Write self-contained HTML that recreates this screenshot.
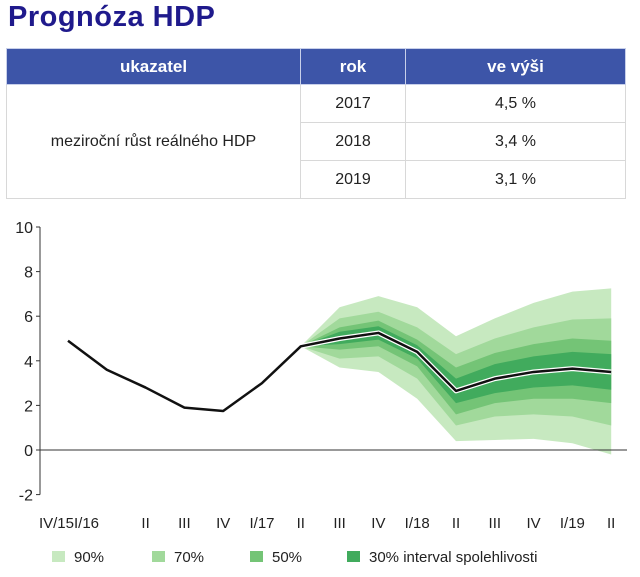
<!DOCTYPE html>
<html><head><meta charset="utf-8"><style>
body{margin:0;width:640px;height:577px;background:#fff;font-family:"Liberation Sans",Verdana,sans-serif;overflow:hidden;position:relative}
h1{position:absolute;left:8px;top:1px;margin:0;font-size:29px;color:#1f1a8c;font-weight:bold;letter-spacing:0.5px}
table{position:absolute;left:6px;top:48px;border-collapse:collapse;width:620px}
td,th{border:1px solid #d8d8d8;font-size:16px;text-align:center;color:#222;padding:0;line-height:16px}
th{background:#3d55a8;color:#fff;height:35px;font-size:17px;border-color:#c8d0ea}
td{height:37px}
</style></head><body>
<h1>Prognóza HDP</h1>
<table>
<tr><th style="width:293px">ukazatel</th><th style="width:104px">rok</th><th>ve výši</th></tr>
<tr><td rowspan="3">meziroční růst reálného HDP</td><td>2017</td><td>4,5 %</td></tr>
<tr><td>2018</td><td>3,4 %</td></tr>
<tr><td>2019</td><td>3,1 %</td></tr>
</table>
<svg id="chart" width="640" height="577" style="position:absolute;left:0;top:0"></svg>
<script>
const categories=["IV/15","I/16","II","III","IV","I/17","II","III","IV","I/18","II","III","IV","I/19","II"];
const gdp=[4.9,3.6,2.8,1.9,1.75,3.0,4.65,5.0,5.25,4.4,2.65,3.2,3.5,3.65,3.5];
const fanStart=6;
const band90Upper=[4.65,6.4,6.9,6.4,5.1,5.9,6.6,7.1,7.25];
const band90Lower=[4.65,3.7,3.5,2.3,0.4,0.45,0.5,0.3,-0.2];
const band70Upper=[4.65,5.9,6.2,5.5,4.3,5.0,5.5,5.85,5.9];
const band70Lower=[4.65,4.1,4.2,3.2,1.1,1.5,1.6,1.5,1.1];
const band50Upper=[4.65,5.5,5.8,4.95,3.7,4.35,4.75,5.0,4.9];
const band50Lower=[4.65,4.5,4.65,3.75,1.6,2.1,2.3,2.3,2.1];
const band30Upper=[4.65,5.3,5.55,4.7,3.2,3.85,4.2,4.4,4.3];
const band30Lower=[4.65,4.75,4.95,4.1,2.1,2.55,2.8,2.9,2.7];
const yTicks=[-2,0,2,4,6,8,10];
const legendLabels=["90%","70%","50%","30% interval spolehlivosti"];
const bandColors=["#c7e9c0","#a1d99b","#74c476","#41ab5d"];
const svg=document.getElementById('chart');const NS="http://www.w3.org/2000/svg";
const X=i=>68+38.8*i, Y=v=>450-22.3*v;
function mk(t,a,p){const e=document.createElementNS(NS,t);for(const k in a)e.setAttribute(k,a[k]);(p||svg).appendChild(e);return e;}
const bands=[[band90Upper,band90Lower],[band70Upper,band70Lower],[band50Upper,band50Lower],[band30Upper,band30Lower]];
bands.forEach((b,j)=>{let pts=[];b[0].forEach((v,k)=>pts.push(X(fanStart+k)+","+Y(v)));for(let k=b[1].length-1;k>=0;k--)pts.push(X(fanStart+k)+","+Y(b[1][k]));
const p=mk('polygon',{points:pts.join(' '),fill:bandColors[j]});

});
const ax=mk('line',{x1:40,x2:40,y1:Y(10),y2:Y(-2),stroke:'#333','stroke-width':1});

const zl=mk('line',{x1:40,x2:627,y1:Y(0),y2:Y(0),stroke:'#333','stroke-width':1});

yTicks.forEach(v=>{mk('line',{x1:36,x2:40,y1:Y(v),y2:Y(v),stroke:'#333'});
const t=mk('text',{x:33,y:Y(v)+6,'text-anchor':'end','font-size':16,fill:'#222'});t.textContent=v;
});
categories.forEach((c,i)=>{let x=X(i),anchor='middle';if(i==0){x=74;anchor='end';}if(i==1){x=74;anchor='start';}
const t=mk('text',{x:x,y:528,'text-anchor':anchor,'font-size':15,fill:'#222'});t.textContent=c;
});
const pts=gdp.map((v,i)=>X(i)+","+Y(v)).join(' ');
mk('polyline',{points:pts,fill:'none',stroke:'#fff','stroke-width':5,'stroke-linejoin':'round'});
const ln=mk('polyline',{points:pts,fill:'none',stroke:'#111','stroke-width':2.5,'stroke-linejoin':'round'});

const lx=[60,160,258,355];
legendLabels.forEach((l,j)=>{const g=mk('g',{});

mk('rect',{x:lx[j]-8,y:551,width:13,height:11,fill:bandColors[j]},g);
const t=mk('text',{x:lx[j]+14,y:562,'font-size':15,fill:'#222'},g);t.textContent=l;});
</script>
</body></html>
